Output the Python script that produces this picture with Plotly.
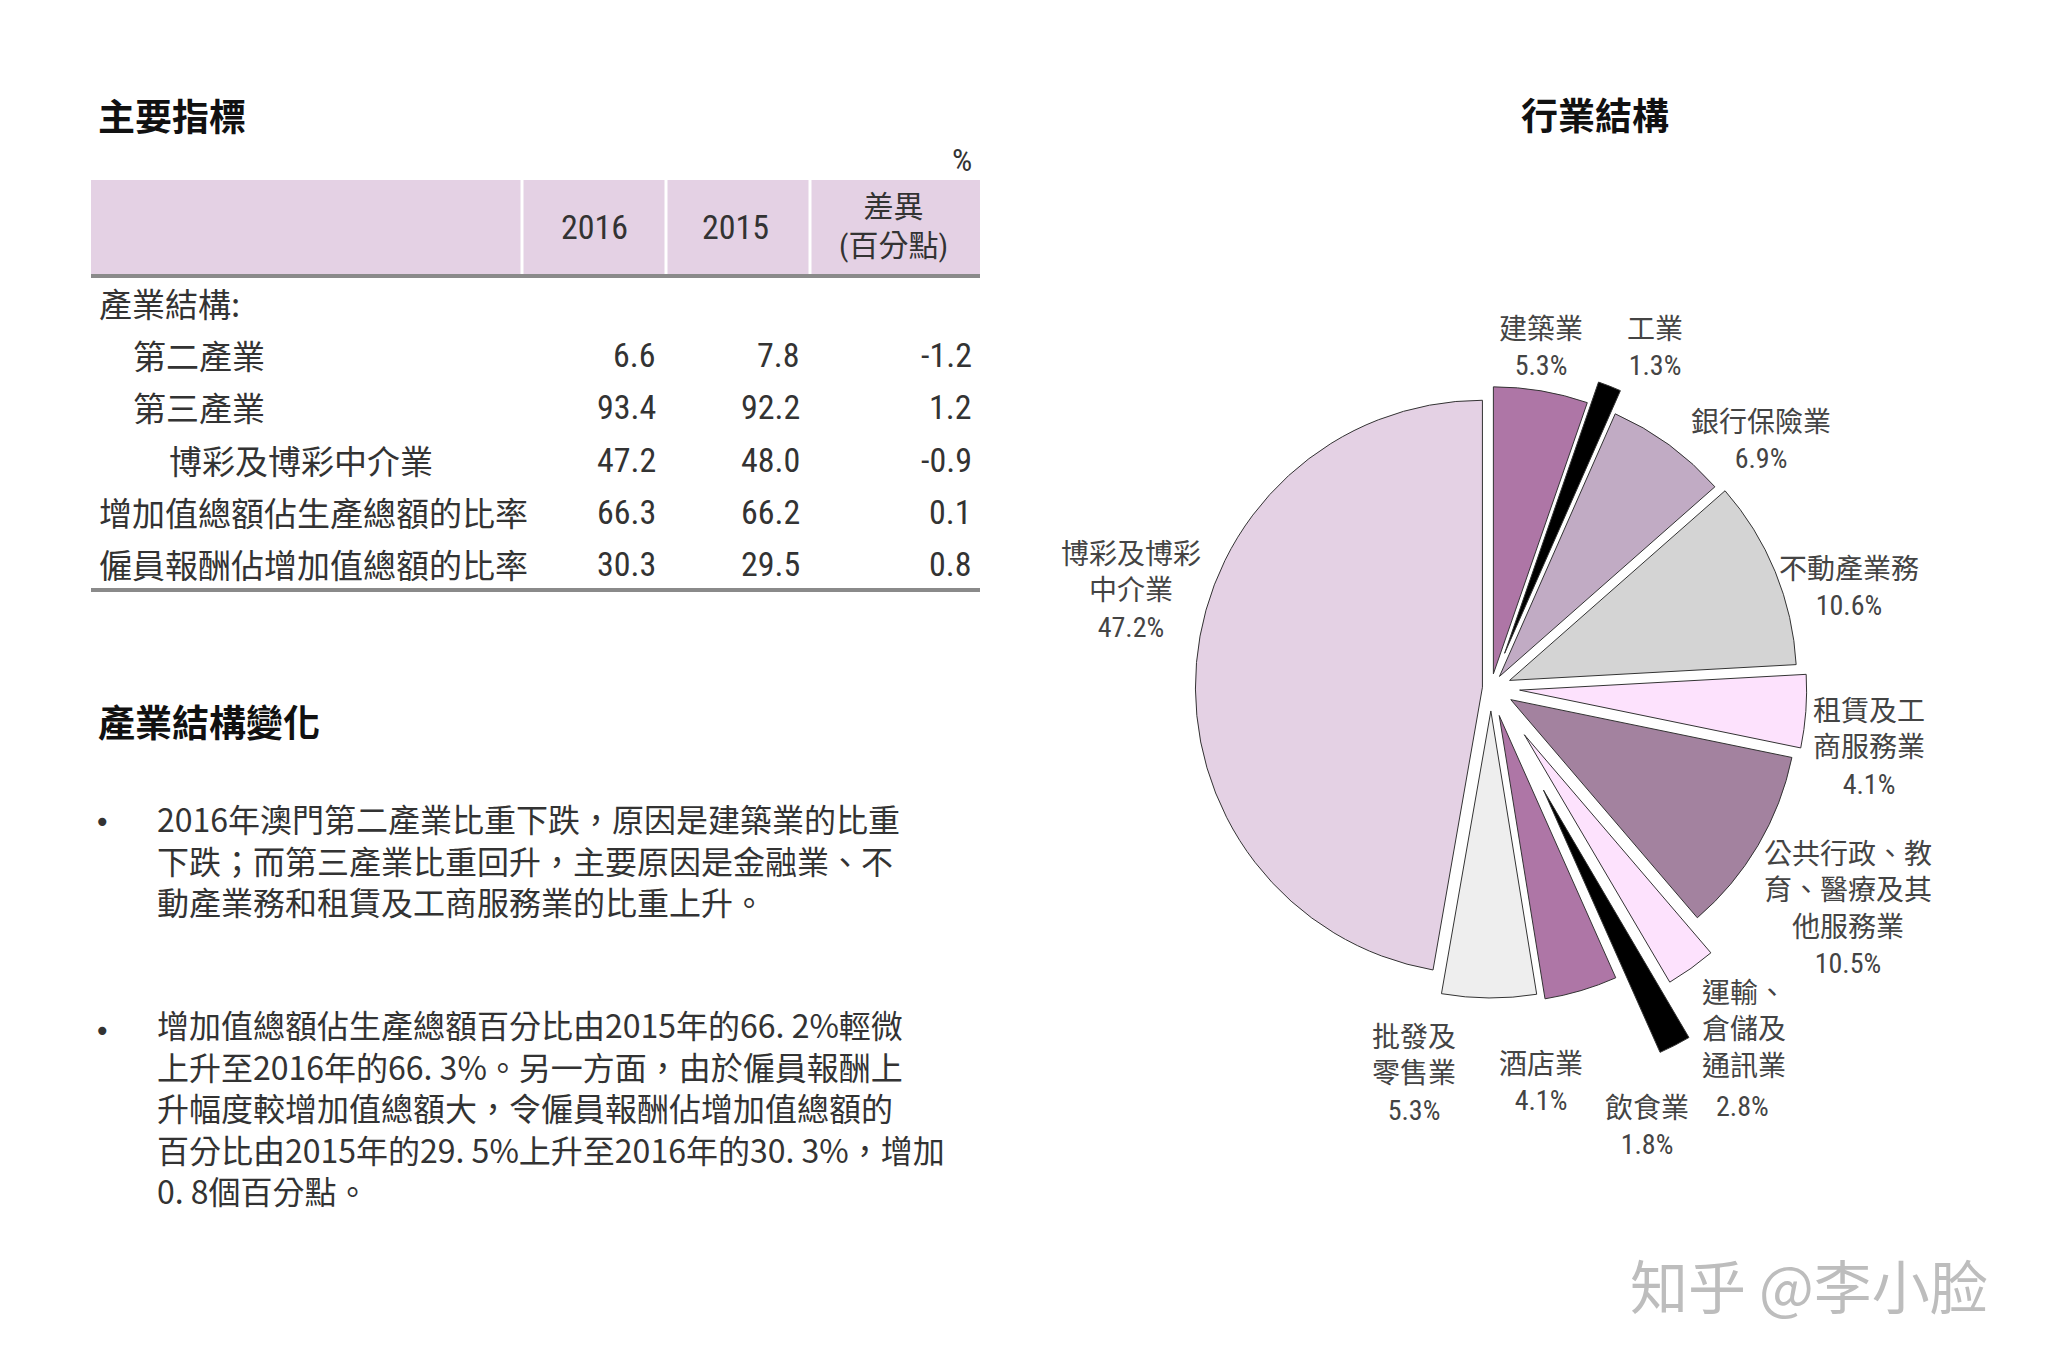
import plotly.graph_objects as go

W, H = 2048, 1366

# ---------------- data ----------------
title_table = "主要指標"
title_change = "產業結構變化"
title_pie = "行業結構"
unit_label = "%"
col_headers = ["2016", "2015", "差異<br>(百分點)"]

row_labels = ["產業結構:", "第二產業", "第三產業", "博彩及博彩中介業",
              "增加值總額佔生產總額的比率", "僱員報酬佔增加值總額的比率"]
row_level = [0, 1, 1, 2, 0, 0]
val_2016 = [None, 6.6, 93.4, 47.2, 66.3, 30.3]
val_2015 = [None, 7.8, 92.2, 48.0, 66.2, 29.5]
val_diff = [None, -1.2, 1.2, -0.9, 0.1, 0.8]

para1 = ["2016年澳門第二產業比重下跌，原因是建築業的比重",
         "下跌；而第三產業比重回升，主要原因是金融業、不",
         "動產業務和租賃及工商服務業的比重上升。"]
para2 = ["增加值總額佔生產總額百分比由2015年的66. 2%輕微",
         "上升至2016年的66. 3%。另一方面，由於僱員報酬上",
         "升幅度較增加值總額大，令僱員報酬佔增加值總額的",
         "百分比由2015年的29. 5%上升至2016年的30. 3%，增加",
         "0. 8個百分點。"]

sectors = ["建築業", "工業", "銀行保險業", "不動產業務", "租賃及工商服務業",
           "公共行政、教育、醫療及其他服務業", "運輸、倉儲及通訊業", "飲食業",
           "酒店業", "批發及零售業", "博彩及博彩中介業"]
shares = [5.3, 1.3, 6.9, 10.6, 4.1, 10.5, 2.8, 1.8, 4.1, 5.3, 47.2]
sector_label_text = ["建築業", "工業", "銀行保險業", "不動產業務", "租賃及工<br>商服務業",
                     "公共行政、教<br>育、醫療及其<br>他服務業", "運輸、<br>倉儲及<br>通訊業",
                     "飲食業", "酒店業", "批發及<br>零售業", "博彩及博彩<br>中介業"]
watermark = "知乎 @李小脸"

# ---------------- styles ----------------
slice_colors = ["#ae76a6", "#000000", "#c1abc4", "#d4d4d4", "#fde2fd",
                "#a3829f", "#fde2fd", "#000000", "#ae76a6", "#eeeeee", "#e4d1e4"]
slice_pull = [0.05, 0.13, 0.05, 0.07, 0.10, 0.08, 0.20, 0.40, 0.10, 0.08, 0.03]

# label block centres (px) for each sector label
label_pos = [(1541, 348), (1655, 348), (1761, 440), (1849, 587), (1869, 748),
             (1848, 909), (1700, 1030), (1647, 1126), (1541, 1082),
             (1414, 1074), (1131, 591)]

CJK = "Noto Sans CJK TC"
NUM = "Liberation Sans Narrow, Roboto Condensed, Arial Narrow, Noto Sans CJK TC"
TXT = "#333333"


def px(x):
    return x / W


def py(y):
    return 1 - y / H


annotations = []
shapes = []


def add_text(x, y, text, size, color=TXT, family=CJK, xanchor="left", yanchor="middle", align="left"):
    annotations.append(dict(x=px(x), y=py(y), xref="paper", yref="paper", text=text,
                            showarrow=False, xanchor=xanchor, yanchor=yanchor, align=align,
                            font=dict(size=size, color=color, family=family)))


# ---------------- pie ----------------
cx, cy, r = 1491, 688, 287
half = r * (1 + max(slice_pull))
fig = go.Figure(go.Pie(
    labels=sectors, values=shares, sort=False, direction="clockwise", rotation=0,
    pull=slice_pull, textinfo="none", hoverinfo="label+percent",
    marker=dict(colors=slice_colors, line=dict(color="#333333", width=1)),
    domain=dict(x=[px(cx - half), px(cx + half)], y=[py(cy + half), py(cy - half)]),
    showlegend=False,
))

for i, (name, v) in enumerate(zip(sector_label_text, shares)):
    x, y = label_pos[i]
    if sectors[i] == "運輸、倉儲及通訊業":
        add_text(x, y, name, 28, color="#444444", family=NUM, xanchor="left")
        add_text(1742, 1106, f"{v}%", 28, color="#444444", family=NUM, xanchor="center")
    else:
        add_text(x, y, f"{name}<br>{v}%", 28, color="#444444", family=NUM,
                 xanchor="center", align="center")

# ---------------- titles ----------------
add_text(96, 115, f"<b>{title_table}</b>", 37, color="#111111")
add_text(96, 721, f"<b>{title_change}</b>", 37, color="#111111")
add_text(1595, 114, f"<b>{title_pie}</b>", 37, color="#111111", xanchor="center")

# ---------------- table ----------------
tl, tr = 91, 980
shapes.append(dict(type="rect", xref="paper", yref="paper", x0=px(tl), x1=px(tr),
                   y0=py(274), y1=py(180), fillcolor="#e4d1e4", line=dict(width=0), layer="below"))
for sx in [522, 666, 810]:
    shapes.append(dict(type="line", xref="paper", yref="paper", x0=px(sx), x1=px(sx),
                       y0=py(274), y1=py(180), line=dict(color="white", width=3)))
for ly in [276, 590]:
    shapes.append(dict(type="line", xref="paper", yref="paper", x0=px(tl), x1=px(tr),
                       y0=py(ly), y1=py(ly), line=dict(color="#8a8a8a", width=4)))

add_text(962, 160, unit_label, 32, family=NUM, xanchor="center")
add_text(594, 227, col_headers[0], 34, family=NUM, xanchor="center")
add_text(735, 227, col_headers[1], 34, family=NUM, xanchor="center")
add_text(893, 226, col_headers[2], 30, family=NUM, xanchor="center", align="center")

row_y = [303, 355, 407, 460, 512, 564]
indent = [97, 131, 167]
for i, lab in enumerate(row_labels):
    y = row_y[i]
    add_text(indent[row_level[i]], y, lab, 33)
    for colx, vals in [(658, val_2016), (802, val_2015), (974, val_diff)]:
        if vals[i] is not None:
            add_text(colx, y, f"{vals[i]:.1f}", 34, family=NUM, xanchor="right")

# ---------------- paragraphs ----------------
add_text(102, 822, "•", 28, family="DejaVu Sans", xanchor="center")
add_text(102, 1031, "•", 28, family="DejaVu Sans", xanchor="center")
add_text(155, 859, "<br>".join(para1), 32, yanchor="middle")
add_text(155, 1107, "<br>".join(para2), 32, yanchor="middle")

# watermark
add_text(1809, 1284, watermark, 58, color="#bdbdbd", xanchor="center")

fig.update_layout(
    width=W, height=H, margin=dict(l=0, r=0, t=0, b=0),
    paper_bgcolor="white", plot_bgcolor="white",
    annotations=annotations, shapes=shapes, showlegend=False,
)

fig.write_html("out.html")
